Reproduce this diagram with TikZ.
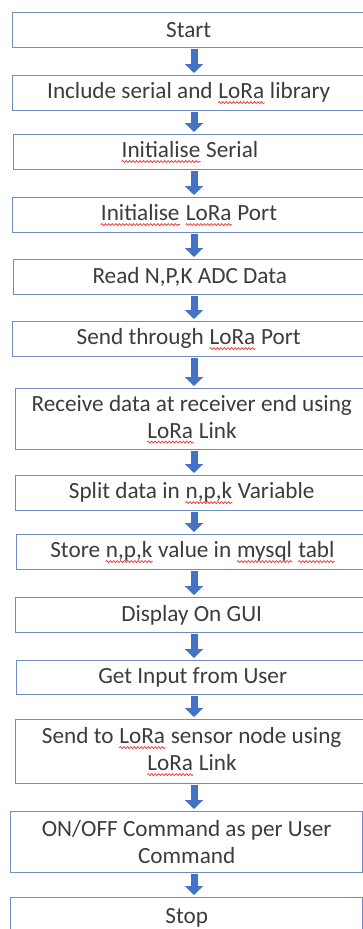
\documentclass[tikz,border=0pt]{standalone}
\usepackage{fontspec}
\setmainfont{Carlito}
\usetikzlibrary{arrows.meta,decorations.pathmorphing}
\definecolor{boxblue}{HTML}{6F8CC4}
\definecolor{arrowblue}{HTML}{4472C4}
\definecolor{textgrey}{HTML}{3C3C3C}
\definecolor{spellred}{HTML}{F03030}
% red squiggle under the words the spell checker marked
\newcommand\spellwave[1]{\tikz[baseline=(w.base),x=1pt,y=1pt]{%
    \node[draw=none, inner sep=0pt, minimum width=0pt, minimum height=0pt, anchor=base, text=textgrey] (w) {#1};
    \draw[spellred, line width=0.7pt, decorate, decoration={snake, segment length=3.5pt, amplitude=1pt}]
        ([yshift=-4pt]w.base west) -- ([yshift=-4pt]w.base east);}}
\tikzset{
    flowbox/.style={draw=boxblue, line width=1.4pt, anchor=north west, inner sep=0pt,
        minimum width=352pt, minimum height=35pt, align=center, text=textgrey,
        font=\fontsize{23.2}{27}\selectfont},
    flowarrow/.style={draw=arrowblue, line width=7pt, -{Triangle[width=18pt,length=9pt]},
        shorten <=1pt, shorten >=2pt}
}
\begin{document}
\begin{tikzpicture}[x=1pt,y=-1pt]
    \useasboundingbox (0,0) rectangle (362,929);
    \coordinate (arrx) at (194,0);

    \node[flowbox] (start) at (12,12) {Start};
    \node[flowbox] (incl) at (12,75) {Include serial and \spellwave{LoRa} library};
    \node[flowbox] (initser) at (13,134) {\spellwave{Initialise} Serial};
    \node[flowbox] (initlora) at (12,197) {\spellwave{Initialise} \spellwave{LoRa} Port};
    \node[flowbox] (readadc) at (13,259) {Read N,P,K ADC Data};
    \node[flowbox] (sendport) at (12,321) {Send through \spellwave{LoRa} Port};
    \node[flowbox, minimum height=61pt] (receive) at (15,388) {Receive data at receiver end using\\ \spellwave{LoRa} Link};
    \node[flowbox] (split) at (15,475) {Split data in \spellwave{n,p,k} Variable};
    \node[flowbox] (store) at (16,534) {Store \spellwave{n,p,k} value in \spellwave{mysql} \spellwave{tabl}};
    \node[flowbox] (display) at (15,597) {Display On GUI};
    \node[flowbox, minimum height=34pt] (input) at (16,660) {Get Input from User};
    \node[flowbox, minimum height=64pt] (sendnode) at (15,719) {Send to \spellwave{LoRa} sensor node using\\ \spellwave{LoRa} Link};
    \node[flowbox, minimum height=61pt] (onoff) at (10,811) {ON/OFF Command as per User\\ Command};
    \node[flowbox, minimum height=40pt] (stop) at (10,897) {\raisebox{4pt}{Stop}};

    \draw[flowarrow] (start.south -| arrx) -- (incl.north -| arrx);
    \draw[flowarrow] (incl.south -| arrx) -- (initser.north -| arrx);
    \draw[flowarrow] (initser.south -| arrx) -- (initlora.north -| arrx);
    \draw[flowarrow] (initlora.south -| arrx) -- (readadc.north -| arrx);
    \draw[flowarrow] (readadc.south -| arrx) -- (sendport.north -| arrx);
    \draw[flowarrow] (sendport.south -| arrx) -- (receive.north -| arrx);
    \draw[flowarrow] (receive.south -| arrx) -- (split.north -| arrx);
    \draw[flowarrow] (split.south -| arrx) -- (store.north -| arrx);
    \draw[flowarrow] (store.south -| arrx) -- (display.north -| arrx);
    \draw[flowarrow] (display.south -| arrx) -- (input.north -| arrx);
    \draw[flowarrow] (input.south -| arrx) -- (sendnode.north -| arrx);
    \draw[flowarrow] (sendnode.south -| arrx) -- (onoff.north -| arrx);
    \draw[flowarrow] (onoff.south -| arrx) -- (stop.north -| arrx);
\end{tikzpicture}
\end{document}
